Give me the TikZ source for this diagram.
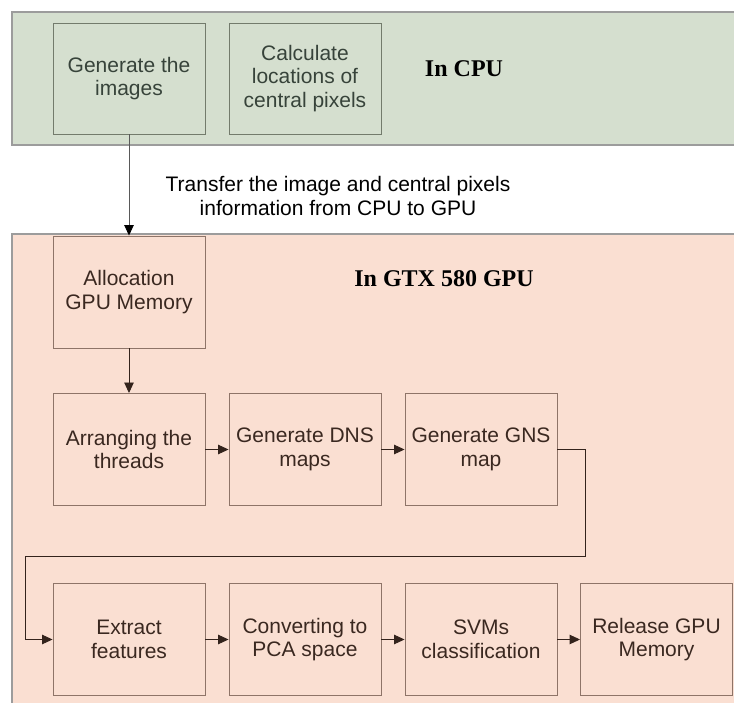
\documentclass[tikz,border=0pt]{standalone}
\usepackage{fontspec}
\setmainfont{Liberation Sans}
\newfontfamily\titlefont{Liberation Serif}
\usetikzlibrary{arrows.meta}

\definecolor{cpufill}{HTML}{D5DFCF}
\definecolor{gpufill}{HTML}{FADFD2}
\definecolor{panelline}{HTML}{9C9C9C}
\definecolor{cpuline}{HTML}{737B6C}
\definecolor{cputext}{HTML}{37433A}
\definecolor{gpuline}{HTML}{8E7468}
\definecolor{gputext}{HTML}{3A2820}
\definecolor{flow}{HTML}{33231C}

\begin{document}
\begin{tikzpicture}[x=1pt,y=-1pt,
  every node/.style={font=\fontsize{21}{23.5}\selectfont},
  cpubox/.style={draw=cpuline,line width=0.9pt,minimum width=152pt,minimum height=111pt,
    inner sep=0pt,align=center,text=cputext},
  gpubox/.style={draw=gpuline,line width=0.9pt,minimum width=152pt,minimum height=112pt,
    inner sep=0pt,align=center,text=gputext},
  panel/.style={draw=panelline,line width=1.4pt},
  title/.style={font=\titlefont\bfseries\fontsize{24}{28}\selectfont,text=black},
  arr/.style={draw=flow,line width=0.9pt,-{Triangle[length=10.5pt,width=9.5pt]}},
  transferarr/.style={draw=black!65,line width=0.9pt,-{Triangle[length=10.5pt,width=9.5pt,color=black]}}
]
\clip (0,0) rectangle (734,703);

% white page
\fill[white] (0,0) rectangle (734,703);

% the two panels, running off the right and bottom edges
\filldraw[panel,fill=cpufill] (12,12) rectangle (760,145);
\filldraw[panel,fill=gpufill] (12,234) rectangle (760,730);

% CPU stage
\node[cpubox] (gen) at (129,78.5) {Generate the\\images};
\node[cpubox] (calc) at (305,78.5) {Calculate\\locations of\\central pixels};
\node[title] (cputitle) at (464,69) {In CPU};

% transfer note
\node[align=center,text=black] (transfer) at (338,196) {Transfer the image and central pixels\\information from CPU to GPU};

% GPU stage
\node[title] (gputitle) at (444,279) {In GTX 580 GPU};
\node[gpubox] (alloc) at (129,292) {Allocation\\GPU Memory};
\node[gpubox] (arr1) at (129,449.5) {Arranging the\\threads};
\node[gpubox] (dns) at (305,449.5) {Generate DNS\\maps};
\node[gpubox] (gns) at (481,449.5) {Generate GNS\\map};
\node[gpubox] (ext) at (129,639.5) {Extract\\features};
\node[gpubox] (pca) at (305,639.5) {Converting to\\PCA space};
\node[gpubox] (svm) at (481,639.5) {SVMs\\classification};
\node[gpubox] (rel) at (656.5,639.5) {Release GPU\\Memory};

% connectors
\draw[transferarr] (gen) -- (alloc);
\draw[arr] (alloc) -- (arr1);
\draw[arr] (arr1) -- (dns);
\draw[arr] (dns) -- (gns);
\coordinate (bendR) at (585,556);
\coordinate (bendL) at (25,556);
\draw[arr] (gns.east) -| (bendR) -- (bendL) |- (ext.west);
\draw[arr] (ext) -- (pca);
\draw[arr] (pca) -- (svm);
\draw[arr] (svm) -- (rel);
\end{tikzpicture}
\end{document}
